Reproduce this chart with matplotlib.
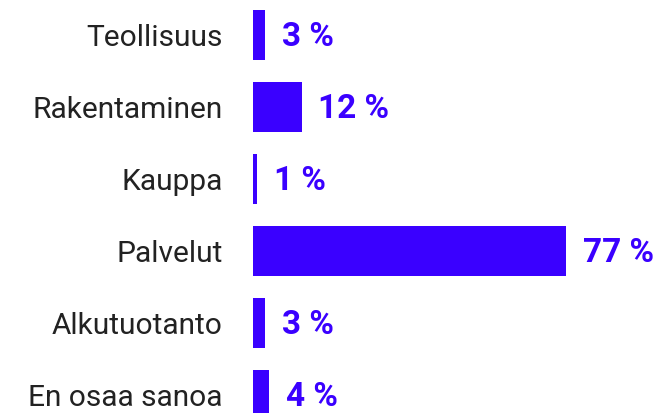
import matplotlib
matplotlib.use("Agg")
import matplotlib.pyplot as plt

# Data
categories = ['Teollisuus', 'Rakentaminen', 'Kauppa', 'Palvelut', 'Alkutuotanto', 'En osaa sanoa']
values = [3, 12, 1, 77, 3, 4]

BAR_COLOR = '#3a00ff'
TEXT_COLOR = '#222222'

plt.rcParams['font.family'] = ['Roboto', 'DejaVu Sans']

fig = plt.figure(figsize=(6.64, 4.13), dpi=100)
ax = fig.add_axes([253 / 664, 0, 411 / 664, 1])

pos = list(range(len(categories)))
bars = ax.barh(pos, values, height=50 / 72, color=BAR_COLOR)

ax.set_xlim(0, 411 / (313 / 77))
ax.set_ylim((413 - 35) / 72, -35 / 72)

ax.set_yticks(pos)
ax.set_yticklabels(categories, fontsize=21.5, color=TEXT_COLOR)
ax.tick_params(axis='y', length=0, pad=22)
ax.set_xticks([])
for s in ax.spines.values():
    s.set_visible(False)

# value labels
for bar, v in zip(bars, values):
    ax.annotate(f'{v} %', (bar.get_width(), bar.get_y() + bar.get_height() / 2),
                xytext=(12, -1.5), textcoords='offset points',
                ha='left', va='center', fontsize=24, fontweight='bold',
                color=BAR_COLOR)

fig.savefig('out.png', dpi=100)
